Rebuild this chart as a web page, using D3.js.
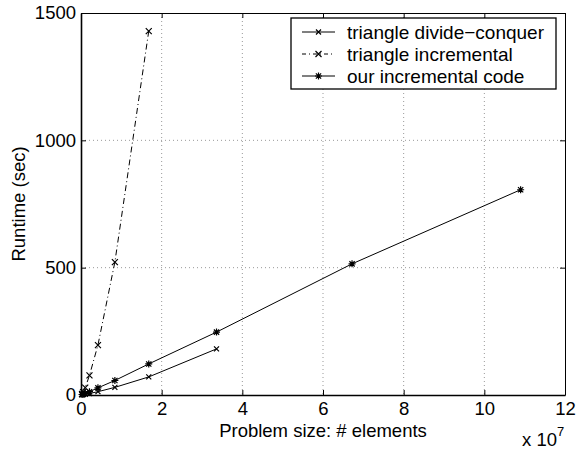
<!DOCTYPE html>
<html>
<head>
<meta charset="utf-8">
<script src="https://cdn.jsdelivr.net/npm/d3@7"></script>
<style>
  body { margin: 0; background: #fff; }
  svg text { font-family: "Liberation Sans", Arial, Helvetica, sans-serif; fill: #000; }
</style>
</head>
<body>
<svg id="chart"></svg>
<script>
// data (x in units of 1e7 elements, y in seconds)
const dcX = [0.026, 0.052, 0.105, 0.21, 0.42, 0.84, 1.68, 3.36];
const dcY = [1, 2, 3, 6, 13, 30, 71, 181];

const incX = [0.026, 0.052, 0.105, 0.21, 0.42, 0.84, 1.68];
const incY = [4, 11, 29, 77, 196, 522, 1429];

const oursX = [0.026, 0.052, 0.105, 0.21, 0.42, 0.84, 1.68, 3.36, 6.72, 10.9];
const oursY = [2, 3, 6, 13, 28, 57, 122, 247, 515, 806];

const xTicks = [0, 2, 4, 6, 8, 10, 12];
const yTicks = [0, 500, 1000, 1500];

const seriesNames = ["triangle divide\u2212conquer", "triangle incremental", "our incremental code"];

//margins
const margin = { top: 13, right: 12, bottom: 55, left: 81 };
const width = 577 - margin.left - margin.right;
const height = 450 - margin.top - margin.bottom;

const svg = d3.select("#chart")
    .attr("width", 577)
    .attr("height", 450);

const g = svg.append("g")
    .attr("transform", `translate(${margin.left}, ${margin.top})`);

const x = d3.scaleLinear().domain([0, 12]).range([0, width]);
const y = d3.scaleLinear().domain([0, 1500]).range([height, 0]);

// grid (dotted)
g.append("g").selectAll("line")
    .data(xTicks.slice(1, -1))
    .enter().append("line")
    .attr("x1", d => x(d)).attr("x2", d => x(d))
    .attr("y1", 0).attr("y2", height)
    .attr("stroke", "#999").attr("stroke-width", 1)
    .attr("stroke-dasharray", "1,3");

g.append("g").selectAll("line")
    .data(yTicks.slice(1, -1))
    .enter().append("line")
    .attr("y1", d => y(d)).attr("y2", d => y(d))
    .attr("x1", 0).attr("x2", width)
    .attr("stroke", "#999").attr("stroke-width", 1)
    .attr("stroke-dasharray", "1,3");

// axes, ticks inward, box on all sides
const tickLen = 5;
const fmt = d3.format("d");
const xAxis = d3.axisBottom(x).tickValues(xTicks).tickFormat(fmt).tickSizeInner(-tickLen).tickSizeOuter(0).tickPadding(7);
const yAxis = d3.axisLeft(y).tickValues(yTicks).tickFormat(fmt).tickSizeInner(-tickLen).tickSizeOuter(0).tickPadding(5);

const gx = g.append("g").attr("transform", `translate(0, ${height})`).call(xAxis);
const gy = g.append("g").call(yAxis);

g.append("g").call(d3.axisTop(x).tickValues(xTicks).tickSizeInner(-tickLen).tickSizeOuter(0).tickFormat(""));
g.append("g").attr("transform", `translate(${width}, 0)`)
    .call(d3.axisRight(y).tickValues(yTicks).tickSizeInner(-tickLen).tickSizeOuter(0).tickFormat(""));

g.selectAll(".domain").attr("stroke", "#000").attr("stroke-width", 1);
gx.select(".domain").attr("stroke-width", 1.6);
gy.select(".domain").attr("stroke-width", 1.6);
g.selectAll(".tick line").attr("stroke", "#000");
g.selectAll(".tick text").style("font-size", "18.5px").attr("fill", "#000");

// axis labels
svg.append("text")
    .attr("x", margin.left + width / 2)
    .attr("y", 437)
    .attr("text-anchor", "middle")
    .style("font-size", "18.5px")
    .text("Problem size: # elements");

svg.append("text")
    .attr("transform", `translate(25, ${margin.top + height / 2}) rotate(-90)`)
    .attr("text-anchor", "middle")
    .style("font-size", "18.5px")
    .text("Runtime (sec)");

const expo = svg.append("text")
    .attr("x", 522)
    .attr("y", 446)
    .style("font-size", "18.5px");
expo.append("tspan").text("x 10");
expo.append("tspan").attr("dy", -10).style("font-size", "13px").text("7");

// marker helpers
function crossPath(r) {
    return `M${-r},${-r}L${r},${r}M${-r},${r}L${r},${-r}`;
}
function starPath(r) {
    return crossPath(r * 0.75) + `M${-r},0L${r},0M0,${-r}L0,${r}`;
}

const line = d3.line().x(d => x(d[0])).y(d => y(d[1]));

const series = [
    { xs: dcX, ys: dcY, dash: null, marker: crossPath(2.5) },
    { xs: incX, ys: incY, dash: "6,3,1,3", marker: crossPath(3) },
    { xs: oursX, ys: oursY, dash: null, marker: starPath(3.5) }
];

series.forEach(s => {
    const pts = s.xs.map((v, i) => [v, s.ys[i]]);
    g.append("path")
        .datum(pts)
        .attr("d", line)
        .attr("fill", "none")
        .attr("stroke", "#000")
        .attr("stroke-width", 1)
        .attr("stroke-dasharray", s.dash);
    g.append("g").selectAll("path")
        .data(pts)
        .enter().append("path")
        .attr("transform", d => `translate(${x(d[0])}, ${y(d[1])})`)
        .attr("d", s.marker)
        .attr("fill", "none")
        .attr("stroke", "#000")
        .attr("stroke-width", 1.2);
});

// legend
const legend = svg.append("g").attr("transform", "translate(291, 18)");
legend.append("rect")
    .attr("width", 265).attr("height", 71)
    .attr("fill", "#fff").attr("stroke", "#000").attr("stroke-width", 1.3);

const rows = legend.selectAll(".legend-item")
    .data(series)
    .enter().append("g")
    .attr("class", "legend-item")
    .attr("transform", (d, i) => `translate(0, ${14 + i * 22})`);

rows.append("line")
    .attr("x1", 11).attr("x2", 44)
    .attr("stroke", "#000").attr("stroke-width", 1)
    .attr("stroke-dasharray", d => d.dash ? "4,3,1,3" : null);

rows.append("path")
    .attr("transform", "translate(27.5, 0)")
    .attr("d", d => d.marker)
    .attr("fill", "none").attr("stroke", "#000").attr("stroke-width", 1.2);

rows.append("text")
    .attr("x", 56)
    .attr("y", 7)
    .style("font-size", "19px")
    .text((d, i) => seriesNames[i]);
</script>
</body>
</html>
